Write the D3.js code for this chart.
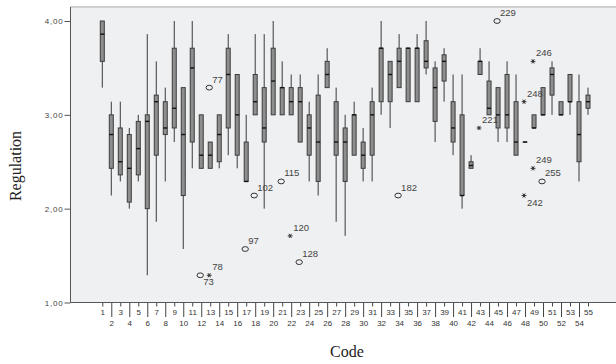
<!DOCTYPE html>
<html>
<head>
<meta charset="utf-8">
<script src="https://cdn.jsdelivr.net/npm/d3@7"></script>
<style>
  body { margin: 0; background: #fff; }
  svg { display: block; }
</style>
</head>
<body>
<div id="chart"></div>
<script>
"use strict";

// one entry per code, boxes
const codes = [1, 2, 3, 4, 5, 6, 7, 8, 9, 10, 11, 12, 13, 14, 15, 16, 17, 18, 19, 20,
  21, 22, 23, 24, 25, 26, 27, 28, 29, 30, 31, 32, 33, 34, 35, 36, 37, 38, 39, 40,
  41, 42, 43, 44, 45, 46, 47, 48, 49, 50, 51, 52, 53, 54, 55];
const whiskerLow = [3.29, 2.14, 2.29, 2.00, 2.29, 1.29, 1.86, 2.29, 2.71, 1.57,
  2.43, 2.43, 2.43, 2.43, 2.57, 2.43, 2.29, 3.00, 2.00, 3.00,
  3.00, 3.00, 2.71, 2.29, 2.14, 3.29, 1.86, 1.71, 2.57, 2.29,
  2.29, 3.00, 2.86, 3.29, 3.14, 3.14, 3.43, 2.71, 3.14, 2.57,
  2.00, 2.43, 3.43, 3.00, 2.71, 2.71, 2.57, 2.71, 2.86, 3.00,
  3.00, 3.00, 3.00, 2.29, 3.00];
const q1 = [3.57, 2.43, 2.36, 2.07, 2.36, 2.00, 2.57, 2.79, 2.86, 2.14,
  2.71, 2.43, 2.43, 2.50, 2.86, 2.57, 2.29, 3.00, 2.71, 3.00,
  3.00, 3.00, 2.71, 2.57, 2.29, 3.29, 2.57, 2.29, 2.57, 2.43,
  2.57, 3.14, 3.14, 3.29, 3.14, 3.14, 3.50, 2.93, 3.36, 2.71,
  2.14, 2.43, 3.43, 3.00, 2.86, 2.86, 2.57, 2.71, 2.86, 3.00,
  3.21, 3.00, 3.14, 2.50, 3.07];
const median = [3.86, 2.79, 2.50, 2.43, 2.64, 2.93, 3.14, 2.86, 3.07, 2.79,
  3.50, 2.57, 2.57, 2.79, 3.43, 3.00, 2.29, 3.14, 2.86, 3.36,
  3.29, 3.14, 3.14, 2.86, 2.71, 3.43, 2.71, 2.71, 3.00, 2.57,
  3.00, 3.71, 3.43, 3.57, 3.71, 3.71, 3.57, 3.29, 3.57, 2.86,
  2.14, 2.46, 3.57, 3.07, 3.00, 3.00, 2.71, 2.71, 2.86, 3.00,
  3.43, 3.00, 3.14, 2.79, 3.14];
const q3 = [4.00, 3.00, 2.86, 2.79, 2.93, 3.00, 3.21, 3.14, 3.71, 3.29,
  3.71, 3.00, 2.71, 3.00, 3.71, 3.43, 2.71, 3.43, 3.29, 3.71,
  3.29, 3.29, 3.29, 3.00, 3.21, 3.57, 3.14, 2.86, 3.00, 2.71,
  3.14, 3.71, 3.57, 3.71, 3.71, 3.71, 3.79, 3.50, 3.64, 3.14,
  3.00, 2.50, 3.57, 3.36, 3.29, 3.43, 3.14, 2.71, 3.00, 3.29,
  3.50, 3.14, 3.43, 3.14, 3.21];
const whiskerHigh = [4.00, 3.14, 3.14, 2.86, 3.00, 3.86, 3.57, 3.29, 4.00, 3.29,
  4.00, 3.00, 2.71, 3.00, 3.86, 3.43, 3.00, 3.86, 3.86, 4.00,
  3.57, 3.43, 3.43, 3.14, 3.43, 3.71, 3.29, 3.00, 3.14, 2.86,
  3.29, 4.00, 3.57, 3.86, 3.71, 3.86, 4.00, 3.57, 3.71, 3.43,
  3.43, 2.57, 3.71, 3.57, 3.29, 3.57, 3.43, 2.71, 3.00, 3.29,
  3.57, 3.14, 3.43, 3.43, 3.29];

// outliers: "o" = circle, "*" = extreme
const outlierCode = [12, 13, 13, 17, 18, 21, 22, 23, 34, 43, 45, 48, 48, 49, 49, 50];
const outlierValue = [1.29, 1.29, 3.29, 1.57, 2.14, 2.29, 1.71, 1.43, 2.14, 2.86, 4.00, 3.14, 2.14, 3.57, 2.43, 2.29];
const outlierId = [73, 78, 77, 97, 102, 115, 120, 128, 182, 221, 229, 248, 242, 246, 249, 255];
const outlierKind = ["o", "*", "o", "o", "o", "o", "*", "o", "o", "*", "o", "*", "*", "*", "*", "o"];

const yTicks = [1, 2, 3, 4];
const yTitle = "Regulation";
const xTitle = "Code";

const svgWidth = 616;
const svgHeight = 364;
const plotLeft = 70.5;
const plotBottom = 302.5;
const labelBelow = [73, 242];

const svg = d3.select("#chart")
  .append("svg")
  .attr("width", svgWidth)
  .attr("height", svgHeight)
;

const yScale = d3.scaleLinear()
  .domain([1, 4])
  .range([plotBottom, 21])
;
const xScale = d3.scalePoint()
  .domain(codes)
  .range([102.3, 588])
;

const plotTop = yScale(4.15);

// plot background
svg.append("rect")
  .attr("x", plotLeft)
  .attr("y", plotTop)
  .attr("width", svgWidth - plotLeft)
  .attr("height", plotBottom - plotTop)
  .attr("fill", "#eff0f2")
;
svg.append("line")
  .attr("x1", plotLeft).attr("x2", svgWidth)
  .attr("y1", plotTop).attr("y2", plotTop)
  .attr("stroke", "#a8a8a8")
;

const rows = codes.map((c, i) => ({
  code: c, lo: whiskerLow[i], q1: q1[i], med: median[i], q3: q3[i], hi: whiskerHigh[i]
}));

const boxW = 4;
const g = svg.append("g");

g.selectAll("line.whisker")
  .data(rows)
  .enter()
  .append("line")
  .attr("class", "whisker")
  .attr("x1", d => xScale(d.code))
  .attr("x2", d => xScale(d.code))
  .attr("y1", d => yScale(d.lo))
  .attr("y2", d => yScale(d.hi))
  .attr("stroke", "#3a3a3a")
  .attr("stroke-width", 1)
;

g.selectAll("rect.box")
  .data(rows)
  .enter()
  .append("rect")
  .attr("class", "box")
  .attr("x", d => xScale(d.code) - boxW / 2)
  .attr("y", d => yScale(d.q3))
  .attr("width", boxW)
  .attr("height", d => Math.max(0.01, yScale(d.q1) - yScale(d.q3)))
  .attr("fill", "#8e8e8e")
  .attr("stroke", "#3d3d3d")
  .attr("stroke-width", 1)
;

g.selectAll("line.median")
  .data(rows)
  .enter()
  .append("line")
  .attr("class", "median")
  .attr("x1", d => xScale(d.code) - boxW / 2)
  .attr("x2", d => xScale(d.code) + boxW / 2)
  .attr("y1", d => yScale(d.med))
  .attr("y2", d => yScale(d.med))
  .attr("stroke", "#111")
  .attr("stroke-width", 1.4)
;

const outliers = outlierCode.map((c, i) => ({
  code: c, value: outlierValue[i], id: outlierId[i], kind: outlierKind[i]
}));

const og = svg.append("g");
og.selectAll("ellipse")
  .data(outliers.filter(d => d.kind === "o"))
  .enter()
  .append("ellipse")
  .attr("cx", d => xScale(d.code) - 1)
  .attr("cy", d => yScale(d.value))
  .attr("rx", 3.2)
  .attr("ry", 2.4)
  .attr("fill", "none")
  .attr("stroke", "#333")
  .attr("stroke-width", 1)
;
og.selectAll("path.star")
  .data(outliers.filter(d => d.kind === "*"))
  .enter()
  .append("path")
  .attr("class", "star")
  .attr("transform", d => `translate(${xScale(d.code) - 1},${yScale(d.value)}) rotate(90)`)
  .attr("d", d3.symbol(d3.symbolAsterisk, 16))
  .attr("fill", "none")
  .attr("stroke", "#333")
  .attr("stroke-width", 1)
;
og.selectAll("text")
  .data(outliers)
  .enter()
  .append("text")
  .attr("x", d => xScale(d.code) + 2)
  .attr("y", d => yScale(d.value) + (labelBelow.includes(d.id) ? 10 : -5))
  .attr("font-family", "Liberation Sans, Arial, sans-serif")
  .attr("font-size", 9.5)
  .attr("fill", "#444")
  .text(d => d.id)
;

// y axis
const yAxis = d3.axisLeft(yScale)
  .tickValues(yTicks)
  .tickFormat(d => d3.format(".2f")(d).replace(".", ","))
  .tickSize(6)
  .tickPadding(1)
;
const yg = svg.append("g")
  .attr("transform", `translate(${plotLeft},0)`)
  .call(yAxis)
;
yg.select(".domain").remove();
yg.selectAll(".tick line").attr("stroke", "#555");
yg.selectAll(".tick text")
  .attr("font-family", "Liberation Sans, Arial, sans-serif")
  .attr("font-size", 8)
  .attr("letter-spacing", 0.8)
  .attr("fill", "#444")
;
svg.append("line")
  .attr("x1", plotLeft).attr("x2", plotLeft)
  .attr("y1", plotTop).attr("y2", plotBottom)
  .attr("stroke", "#555")
;

// x axis, even codes on a second row with long ticks
const xAxis = d3.axisBottom(xScale).tickSize(4);
const xg = svg.append("g")
  .attr("transform", `translate(0,${plotBottom})`)
  .call(xAxis)
;
xg.select(".domain").remove();
xg.selectAll(".tick line")
  .attr("stroke", "#444")
  .attr("y2", d => d % 2 === 0 ? 14.5 : 4)
;
xg.selectAll(".tick text")
  .attr("y", d => d % 2 === 0 ? 18 : 7)
  .attr("font-family", "Liberation Sans, Arial, sans-serif")
  .attr("font-size", 8)
  .attr("fill", "#333")
;
svg.append("line")
  .attr("x1", plotLeft).attr("x2", svgWidth)
  .attr("y1", plotBottom).attr("y2", plotBottom)
  .attr("stroke", "#555")
;

svg.append("text")
  .attr("transform", "translate(21,166) rotate(-90)")
  .attr("text-anchor", "middle")
  .attr("font-family", "Liberation Serif, Times New Roman, serif")
  .attr("font-size", 16)
  .attr("fill", "#222")
  .text(yTitle)
;
svg.append("text")
  .attr("x", 347)
  .attr("y", 357)
  .attr("text-anchor", "middle")
  .attr("font-family", "Liberation Serif, Times New Roman, serif")
  .attr("font-size", 16)
  .attr("fill", "#222")
  .text(xTitle)
;
</script>
</body>
</html>
